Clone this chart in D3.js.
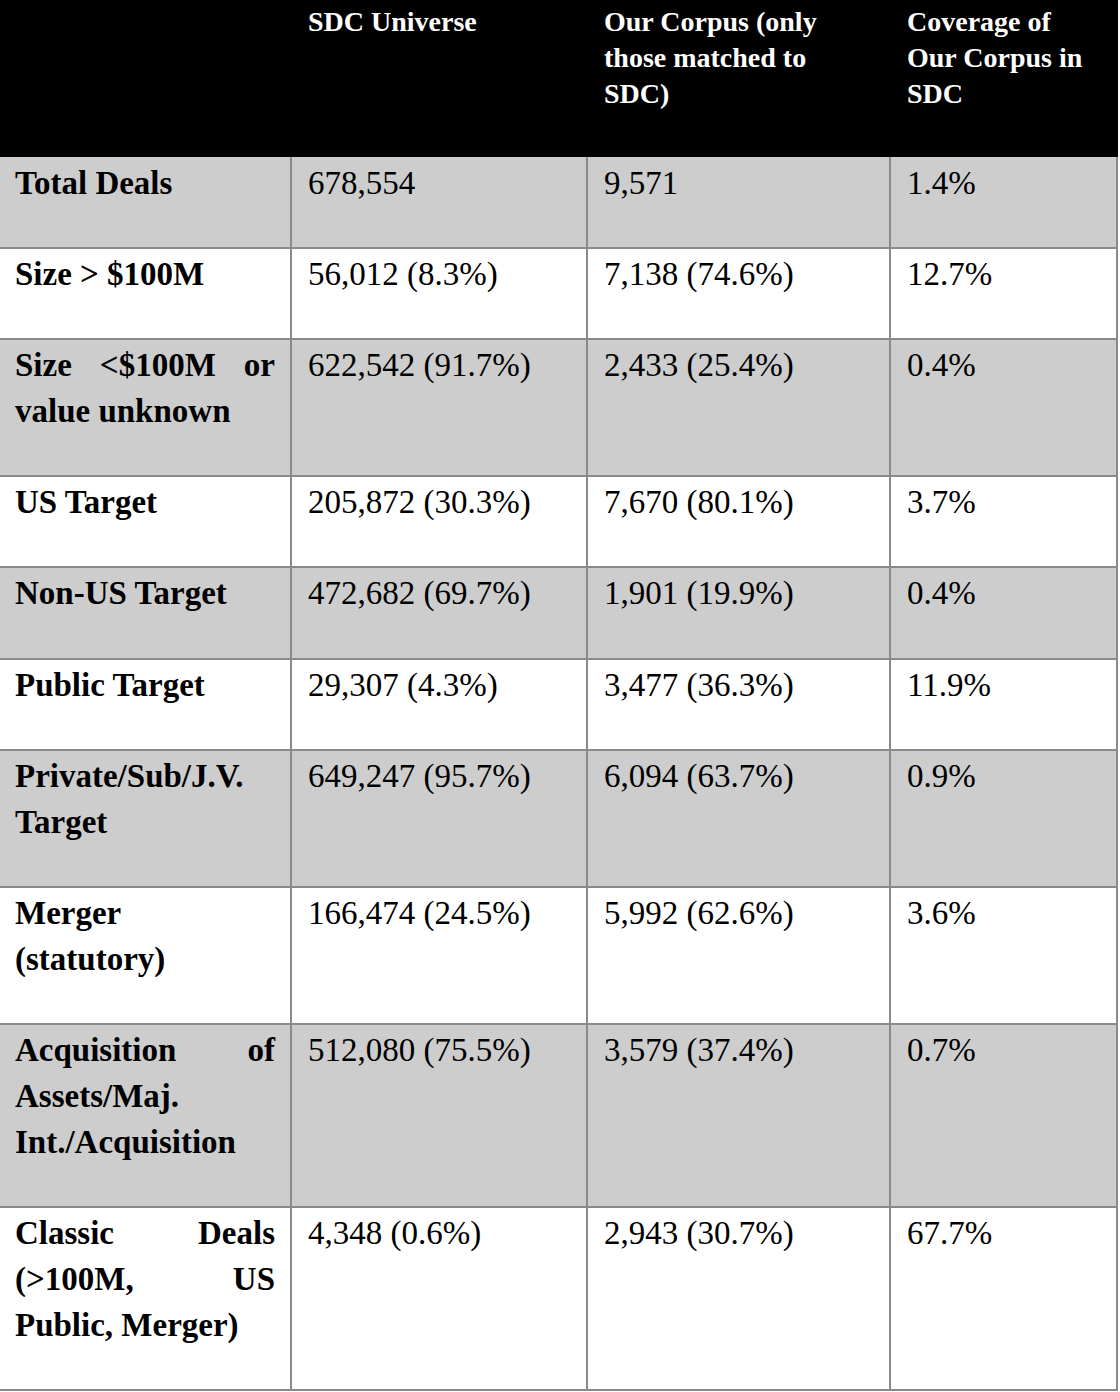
<!DOCTYPE html>
<html><head><meta charset="utf-8">
<script src="https://cdn.jsdelivr.net/npm/d3@7.9.0/dist/d3.min.js"></script>
<style>body{margin:0;background:#fff}svg{display:block}</style>
</head><body><svg id="t" width="1120" height="1392"></svg>
<script>
const headers = [[], ['SDC Universe'], ['Our Corpus (only', 'those matched to', 'SDC)'], ['Coverage of', 'Our Corpus in', 'SDC']];
const rowLabels = [
  ['Total Deals'], ['Size > $100M'], ['Size <$100M or', 'value unknown'], ['US Target'], ['Non-US Target'],
  ['Public Target'], ['Private/Sub/J.V.', 'Target'], ['Merger', '(statutory)'],
  ['Acquisition of', 'Assets/Maj.', 'Int./Acquisition'], ['Classic Deals', '(>100M, US', 'Public, Merger)']
];
const sdc = ['678,554', '56,012 (8.3%)', '622,542 (91.7%)', '205,872 (30.3%)', '472,682 (69.7%)', '29,307 (4.3%)',
  '649,247 (95.7%)', '166,474 (24.5%)', '512,080 (75.5%)', '4,348 (0.6%)'];
const corpus = ['9,571', '7,138 (74.6%)', '2,433 (25.4%)', '7,670 (80.1%)', '1,901 (19.9%)', '3,477 (36.3%)',
  '6,094 (63.7%)', '5,992 (62.6%)', '3,579 (37.4%)', '2,943 (30.7%)'];
const coverage = ['1.4%', '12.7%', '0.4%', '3.7%', '0.4%', '11.9%', '0.9%', '3.6%', '0.7%', '67.7%'];
const rowHeights = [91, 91, 137, 91, 92, 91, 137, 137, 183, 183];

const colX = [0, 291, 587, 890, 1117];
const headH = 157, lineH = 46, font = 'Liberation Serif, DejaVu Serif, serif';
const svg = d3.select('#t');

svg.append('rect').attr('x', 0).attr('y', 0).attr('width', 1118).attr('height', headH).attr('fill', '#000');
headers.forEach((lines, c) => {
  lines.forEach((l, i) => svg.append('text').attr('x', colX[c] + 17).attr('y', 31 + i * 36)
    .attr('fill', '#fff').attr('font-family', font).attr('font-weight', 'bold').attr('font-size', 28).text(l));
});

const tops = d3.cumsum([headH, ...rowHeights]);
rowLabels.forEach((lab, r) => {
  const y0 = tops[r], h = rowHeights[r];
  svg.append('rect').attr('x', 0).attr('y', y0).attr('width', 1118).attr('height', h)
    .attr('fill', r % 2 === 0 ? '#cdcdcd' : '#fff');
  const g = svg.append('g').attr('font-family', font).attr('font-size', 33).attr('fill', '#000');
  lab.forEach((line, i) => {
    const y = y0 + 37 + i * lineH;
    const words = line.split(' ');
    if (i < lab.length - 1 && words.length > 1) {
      const ts = words.map(w => g.append('text').attr('y', y).attr('font-weight', 'bold').text(w));
      const ws = ts.map(t => t.node().getComputedTextLength());
      const gap = (275 - 15 - d3.sum(ws)) / (words.length - 1);
      let x = 15;
      ts.forEach((t, k) => { t.attr('x', x); x += ws[k] + gap; });
    } else {
      g.append('text').attr('x', 15).attr('y', y).attr('font-weight', 'bold').text(line);
    }
  });
  [sdc[r], corpus[r], coverage[r]].forEach((v, c) =>
    g.append('text').attr('x', colX[c + 1] + 17).attr('y', y0 + 37).text(v));
});

// grid lines
const lineColor = '#8a8a8a';
tops.slice(1).forEach(y => svg.append('line').attr('x1', 0).attr('x2', 1118).attr('y1', y).attr('y2', y)
  .attr('stroke', lineColor).attr('stroke-width', 2));
colX.slice(1).forEach(x => svg.append('line').attr('x1', x).attr('x2', x).attr('y1', headH).attr('y2', tops[tops.length - 1])
  .attr('stroke', lineColor).attr('stroke-width', 2));
</script></body></html>
